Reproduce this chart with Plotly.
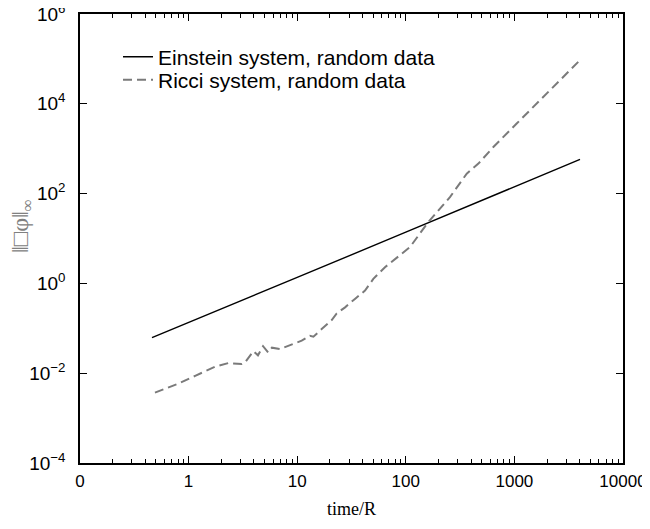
import plotly.graph_objects as go

# Einstein system (straight line on log-log)
einstein_t = [0.46, 1, 10, 100, 1000, 4020]
einstein_v = [0.062, 0.134, 1.36, 13.8, 140, 580]

# Ricci system, random data
ricci_t = [0.49, 0.78, 1.15, 1.75, 2.32, 2.67, 3.08, 3.30, 3.95, 4.35, 4.85, 5.4, 5.85,
           6.95, 8.28, 9.89, 11.0, 13.1, 14.1, 16.8, 20.8, 23.1, 27.6, 34.0, 42.1, 50.2,
           64.3, 109, 161, 255, 364, 466, 640, 1050, 1845, 4020]
ricci_v = [0.0037, 0.0057, 0.00875, 0.0139, 0.0168, 0.0164, 0.0160, 0.0173, 0.031, 0.025,
           0.040, 0.029, 0.037, 0.0345, 0.041, 0.0485, 0.053, 0.068, 0.065, 0.096, 0.153,
           0.215, 0.293, 0.451, 0.69, 1.26, 2.29, 6.4, 23.1, 83.6, 278, 465, 1090, 3630,
           14260, 94000]

x_tickvals = [0.1, 1, 10, 100, 1000, 10000]
x_ticktext = ["0", "1", "10", "100", "1000", "10000"]
y_tickvals = [1e-4, 1e-2, 1, 1e2, 1e4, 1e6]
y_ticktext = ["10<sup>\u22124</sup>", "10<sup>\u22122</sup>", "10<sup>0</sup>",
              "10<sup>2</sup>", "10<sup>4</sup>", "10<sup>6</sup>"]

minor_x = [k * 10 ** d for d in range(-1, 4) for k in range(2, 10)]

fig = go.Figure()
fig.add_trace(go.Scatter(x=einstein_t, y=einstein_v, mode="lines",
                         name="Einstein system, random data", legend="legend",
                         line=dict(color="black", width=1.4)))
fig.add_trace(go.Scatter(x=ricci_t, y=ricci_v, mode="lines",
                         name="Ricci system, random data", legend="legend2",
                         line=dict(color="#7a7a7a", width=2, dash="9px,5px")))

axis_common = dict(showline=True, linecolor="black", linewidth=1.5, mirror="allticks",
                   ticks="inside", tickcolor="black", ticklen=7, tickwidth=1.2,
                   showgrid=False, zeroline=False, automargin=False,
                   ticklabeloverflow="allow")

fig.update_xaxes(type="log", range=[-1, 4], tickvals=x_tickvals, ticktext=x_ticktext,
                 minor=dict(tickvals=minor_x, ticks="inside", ticklen=4, tickcolor="black"),
                 ticklabelstandoff=2,
                 tickfont=dict(family="Liberation Sans, Arial, sans-serif", size=17, color="black"),
                 title=dict(text="time/R", standoff=12,
                            font=dict(family="Liberation Serif, Times New Roman, serif", size=18, color="black")),
                 **axis_common)
fig.update_yaxes(type="log", range=[-4, 6], tickvals=y_tickvals, ticktext=y_ticktext,
                 ticklabelstandoff=9,
                 tickfont=dict(family="Liberation Sans, Arial, sans-serif", size=19, color="black"),
                 **axis_common)

fig.add_annotation(text="\u2016\u25a1\u03c6\u2016<sub>\u221e</sub>", textangle=-90,
                   xref="paper", yref="paper", x=(22 - 80) / 543, y=(463 - 226) / 449,
                   xanchor="center", yanchor="middle", showarrow=False,
                   font=dict(family="Liberation Serif, Times New Roman, serif", size=24, color="#808080"))

legend_common = dict(x=0.07, xanchor="left", yanchor="middle", bgcolor="rgba(0,0,0,0)",
                     font=dict(family="Liberation Sans, Arial, sans-serif", size=21, color="black"),
                     itemwidth=30)

fig.update_layout(
    width=642, height=521,
    margin=dict(l=72, r=27, t=6, b=66),
    paper_bgcolor="white", plot_bgcolor="white",
    showlegend=True,
    legend=dict(y=0.904, **legend_common),
    legend2=dict(y=0.853, **legend_common),
)

fig.write_html("out.html")
